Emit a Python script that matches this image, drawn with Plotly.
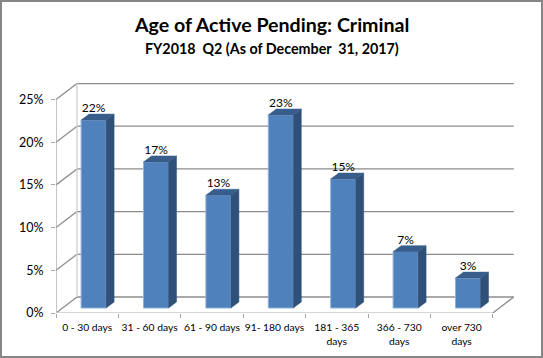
import plotly.graph_objects as go

categories = ["0 - 30 days", "31 - 60 days", "61 - 90 days", "91- 180 days",
              "181 - 365<br>days", "366 - 730<br>days", "over 730<br>days"]
values = [22.0, 17.1, 13.2, 22.6, 15.1, 6.6, 3.5]
value_labels = ["22%", "17%", "13%", "23%", "15%", "7%", "3%"]
y_ticks = [0, 5, 10, 15, 20, 25]
y_tick_labels = ["0%", "5%", "10%", "15%", "20%", "25%"]

W, H = 543, 358
L, R, T, B = 56, 515, 83, 313
PX_X = 62.4   # pixels per category slot
PX_Y = 8.54   # pixels per percent
wall_dx, wall_dy = 21 / PX_X, 16 / PX_Y
bar_dx, bar_dy = 8 / PX_X, 6 / PX_Y
base_y = 5 / PX_Y
bar_w = 25 / PX_X
n = len(categories)
centers = [i + 0.5 + 6.4 / PX_X for i in range(n)]

FRONT, SIDE, TOP = "#4F81BD", "#2F5078", "#385D8A"
GRID, AXIS = "#8C8C8C", "#A6A6A6"
FONT = "Lato"

fig = go.Figure()
fig.add_bar(x=centers, y=values, base=[base_y] * n, width=bar_w,
            marker=dict(color=FRONT, line=dict(color="#8FB0D8", width=1)),
            hoverinfo="skip", showlegend=False)

for c, v in zip(centers, values):
    x0, x1 = c - bar_w / 2, c + bar_w / 2
    y0, y1 = base_y, base_y + v
    fig.add_scatter(x=[x1, x1 + bar_dx, x1 + bar_dx, x1, x1],
                    y=[y0, y0 + bar_dy, y1 + bar_dy, y1, y0],
                    mode="lines", fill="toself", fillcolor=SIDE,
                    line=dict(color=SIDE, width=0.5), hoverinfo="skip", showlegend=False)
    fig.add_scatter(x=[x0, x1, x1 + bar_dx, x0 + bar_dx, x0],
                    y=[y1, y1, y1 + bar_dy, y1 + bar_dy, y1],
                    mode="lines", fill="toself", fillcolor=TOP,
                    line=dict(color=TOP, width=0.5), hoverinfo="skip", showlegend=False)

fig.add_scatter(x=centers,
                y=[base_y + v + bar_dy - 1 / PX_Y for v in values],
                mode="text", text=value_labels, textposition="top center",
                textfont=dict(family=FONT, size=12, color="#000000"),
                hoverinfo="skip", showlegend=False)

shapes = []
def seg(x0, y0, x1, y1, color, width=1.3):
    shapes.append(dict(type="line", xref="x", yref="y", x0=x0, y0=y0, x1=x1, y1=y1,
                       line=dict(color=color, width=width), layer="below"))

for t in y_ticks:
    seg(wall_dx, t + wall_dy, n + wall_dx, t + wall_dy, GRID)
    seg(0, t, wall_dx, t + wall_dy, GRID)
seg(wall_dx, wall_dy, wall_dx, max(y_ticks) + wall_dy, "#D0D0D0")
seg(0, 0, 0, max(y_ticks), AXIS)
seg(0, 0, n, 0, "#C8C8C8")
seg(n, 0, n + wall_dx, wall_dy, GRID)
# picture border
shapes.append(dict(type="rect", xref="paper", yref="paper",
                   x0=-(L - 1) / (R - L), x1=(W - 1 - L) / (R - L),
                   y0=(B - (H - 1)) / (B - T), y1=(B - 1) / (B - T),
                   line=dict(color="#868686", width=2), layer="below"))

def py(p):
    return (B - p) / (B - T)

annotations = [
    dict(text="<b>Age of Active Pending: Criminal</b>", xref="paper", yref="paper",
         x=(271 - L) / (R - L), y=py(25), xanchor="center", yanchor="middle", showarrow=False,
         font=dict(family=FONT, size=19.6, color="#000000")),
    dict(text="<b>FY2018  Q2 (As of December  31, 2017)</b>", xref="paper", yref="paper",
         x=(272 - L) / (R - L), y=py(48), xanchor="center", yanchor="middle", showarrow=False,
         font=dict(family=FONT, size=14.3, color="#000000")),
]

fig.update_layout(
    width=W, height=H, autosize=False,
    margin=dict(l=L, r=W - R, t=T, b=H - B, pad=0),
    paper_bgcolor="#FFFFFF", plot_bgcolor="#FFFFFF",
    showlegend=False, barmode="overlay", shapes=shapes, annotations=annotations,
    xaxis=dict(range=[0, (R - L) / PX_X], tickmode="array",
               tickvals=[i + 0.5 for i in range(n)], ticktext=categories,
               ticks="", showgrid=False, zeroline=False, showline=False,
               ticklabelstandoff=7,
               tickfont=dict(family=FONT, size=10.3, color="#000000"), tickangle=0),
    xaxis2=dict(overlaying="x", side="bottom", anchor="y", range=[0, (R - L) / PX_X],
                tickmode="array", tickvals=list(range(n + 1)), ticktext=[""] * (n + 1),
                ticks="outside", ticklen=4, tickcolor="#A6A6A6", tickwidth=1,
                showgrid=False, zeroline=False, showline=False),
    yaxis=dict(range=[0, (B - T) / PX_Y], tickmode="array", tickvals=y_ticks,
               ticktext=y_tick_labels, ticks="outside", ticklen=4, tickcolor="#A6A6A6",
               showgrid=False, zeroline=False, showline=False, ticklabelstandoff=5,
               tickfont=dict(family=FONT, size=12.5, color="#000000")),
)
fig.add_scatter(x=[0], y=[0], xaxis="x2", yaxis="y", mode="markers", opacity=0,
                hoverinfo="skip", showlegend=False)
fig.write_html("out.html", config=dict(displayModeBar=False),
               post_script="document.body.style.margin='0';")
